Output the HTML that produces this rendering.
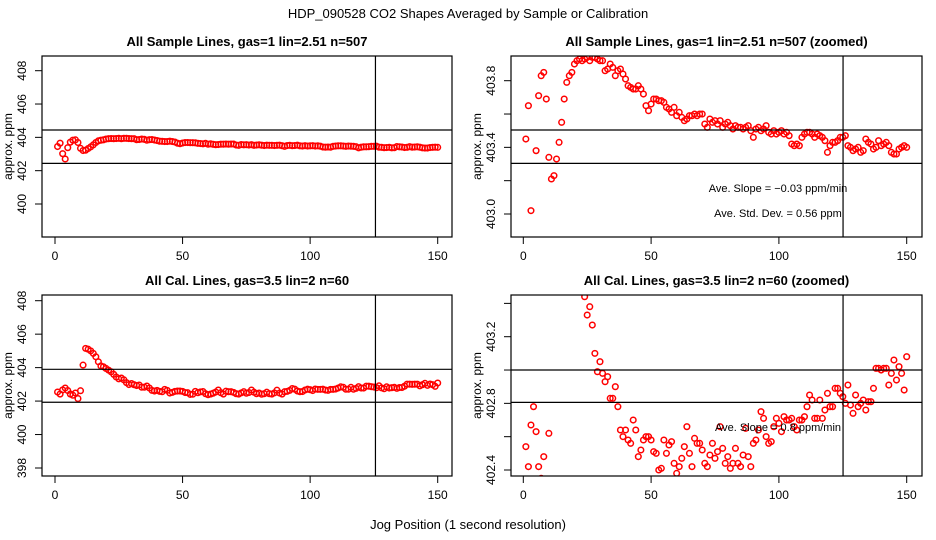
<!DOCTYPE html>
<html><head><meta charset="utf-8"><style>
body{margin:0;background:#fff}
svg{display:block;font-family:"Liberation Sans",sans-serif}
</style></head><body>
<svg id="s" width="936" height="540" xmlns="http://www.w3.org/2000/svg">
<rect width="936" height="540" fill="#fff"/>
<text x="468" y="18" text-anchor="middle" font-size="13">HDP_090528  CO2 Shapes Averaged by Sample or Calibration</text>
<text x="468" y="529" text-anchor="middle" font-size="13">Jog Position (1 second resolution)</text>
</svg>
<script>
const sampleValues=[403.45,403.65,403.02,402.7,403.38,403.71,403.83,403.85,403.69,403.34,403.21,403.23,403.33,403.43,403.55,403.69,403.79,403.83,403.85,403.90,
403.92,403.93,403.92,403.93,403.94,403.92,403.94,403.94,403.93,403.92,403.92,403.86,403.87,403.90,403.88,403.83,403.86,403.87,403.84,403.81,
403.77,403.76,403.75,403.75,403.77,403.75,403.72,403.65,403.62,403.66,403.69,403.69,403.68,403.68,403.67,403.64,403.63,403.61,403.64,403.59,
403.61,403.58,403.56,403.57,403.59,403.59,403.60,403.59,403.60,403.60,403.54,403.52,403.57,403.55,403.56,403.54,403.56,403.52,403.54,403.55,
403.53,403.51,403.53,403.52,403.52,403.51,403.52,403.53,403.50,403.46,403.51,403.52,403.50,403.51,403.53,403.49,403.48,403.50,403.48,403.49,
403.50,403.48,403.49,403.47,403.42,403.41,403.42,403.41,403.46,403.48,403.49,403.49,403.48,403.46,403.48,403.47,403.46,403.44,403.37,403.41,
403.43,403.43,403.44,403.46,403.46,403.47,403.41,403.40,403.38,403.39,403.40,403.37,403.38,403.45,403.43,403.42,403.39,403.40,403.44,403.41,
403.42,403.43,403.41,403.37,403.36,403.36,403.39,403.40,403.41,403.40];
const calValues=[402.54,402.42,402.67,402.78,402.63,402.42,402.35,402.48,402.15,402.62,404.15,405.15,405.1,405.0,404.85,404.65,404.35,404.1,404.05,403.95,
403.85,403.75,403.6,403.44,403.33,403.38,403.27,403.10,402.99,403.05,402.98,402.93,402.96,402.83,402.83,402.90,402.78,402.64,402.60,402.64,
402.58,402.56,402.70,402.64,402.48,402.52,402.58,402.60,402.60,402.58,402.51,402.50,402.40,402.41,402.58,402.50,402.55,402.57,402.44,402.38,
402.42,402.47,402.54,402.66,402.50,402.42,402.59,402.56,402.56,402.52,402.44,402.42,402.49,402.56,402.47,402.51,402.66,402.53,402.44,402.48,
402.41,402.44,402.53,402.44,402.42,402.49,402.65,402.48,402.42,402.56,402.58,402.64,402.75,402.71,402.60,402.56,402.57,402.66,402.71,402.68,
402.63,402.72,402.70,402.70,402.71,402.66,402.64,402.70,402.70,402.72,402.78,402.85,402.82,402.71,402.71,402.82,402.71,402.76,402.86,402.78,
402.78,402.89,402.89,402.86,402.84,402.80,402.91,402.79,402.74,402.85,402.78,402.80,402.82,402.76,402.81,402.81,402.89,403.01,403.01,403.00,
403.01,403.01,402.91,402.98,403.06,402.94,403.02,402.98,402.88,403.08];
const xTicks=[0,50,100,150];
const panels=[
 {id:'tl',title:'All Sample Lines, gas=1 lin=2.51 n=507',data:sampleValues,box:[42,56,452,237],x0:55,x150:437.7,yRef:[408,70.7,400,204],ticks:[400,402,404,406,408],labels:[400,402,404,406,408],h:[404.44,402.44],v:125.6,ylab:8,ytl:22,notes:[]},
 {id:'tr',title:'All Sample Lines, gas=1 lin=2.51 n=507 (zoomed)',data:sampleValues,box:[511,56,922,237],x0:523.3,x150:906.7,yRef:[403.8,80.7,403.0,214],ticks:[403.0,403.2,403.4,403.6,403.8],labels:[403.0,403.4,403.8],h:[403.504,403.304],v:125.1,ylab:477,ytl:491,notes:[['Ave. Slope =  \u22120.03  ppm/min',778,192],['Ave. Std. Dev. =  0.56  ppm',778,217]]},
 {id:'bl',title:'All Cal. Lines, gas=3.5 lin=2 n=60',data:calValues,box:[42,295,452,476],x0:55,x150:437.7,yRef:[408,300.7,398,468],ticks:[398,400,402,404,406,408],labels:[398,400,402,404,406,408],h:[403.9,401.93],v:125.6,ylab:8,ytl:22,notes:[]},
 {id:'br',title:'All Cal. Lines, gas=3.5 lin=2 n=60 (zoomed)',data:calValues,box:[511,295,922,476],x0:523.3,x150:906.7,yRef:[403.2,336.7,402.4,470],ticks:[402.4,402.6,402.8,403.0,403.2,403.4],labels:[402.4,402.8,403.2],h:[403.0,402.806],v:125.1,ylab:477,ytl:491,notes:[['Ave. Slope = 0.8  ppm/min',778,431]]}
];
const NS='http://www.w3.org/2000/svg',svg=document.getElementById('s');
function mk(t,a,p){const e=document.createElementNS(NS,t);for(const k in a)e.setAttribute(k,a[k]);(p||svg).appendChild(e);return e;}
panels.forEach((P,pi)=>{
 const g=mk('g',{});
 
 
 const [L,T,R,B]=P.box;
 const xs=v=>P.x0+(P.x150-P.x0)*v/150;
 const ys=v=>P.yRef[1]+(P.yRef[3]-P.yRef[1])*(v-P.yRef[0])/(P.yRef[2]-P.yRef[0]);
 const cp=mk('clipPath',{id:'c'+pi},g);mk('rect',{x:L,y:T,width:R-L,height:B-T},cp);
 const t=mk('text',{x:(L+R)/2,y:T-10,'text-anchor':'middle','font-size':13,'font-weight':'bold'},g);t.textContent=P.title;
 
 
 const pts=mk('g',{'clip-path':'url(#c'+pi+')'},g);
 
 
 P.data.forEach((v,i)=>{const c=mk('circle',{cx:xs(i+1),cy:ys(v),r:2.8,fill:'none',stroke:'#f00','stroke-width':1.5},pts);
  
  });
 P.h.forEach(h=>{const l=mk('line',{x1:L,x2:R,y1:ys(h),y2:ys(h),stroke:'#000','stroke-width':1.2},g);
  
  });
 const vl=mk('line',{x1:xs(P.v),x2:xs(P.v),y1:T,y2:B,stroke:'#000','stroke-width':1.2},g);
 
 
 const bx=mk('rect',{x:L,y:T,width:R-L,height:B-T,fill:'none',stroke:'#000','stroke-width':1.2},g);
 
 
 xTicks.forEach(v=>{mk('line',{x1:xs(v),x2:xs(v),y1:B,y2:B+7,stroke:'#000'},g);
  const tx=mk('text',{x:xs(v),y:B+23,'text-anchor':'middle','font-size':12},g);tx.textContent=v;
  
  });
 P.ticks.forEach(v=>mk('line',{x1:L-7,x2:L,y1:ys(v),y2:ys(v),stroke:'#000'},g));
 P.labels.forEach(v=>{const y=ys(v);const tx=mk('text',{x:P.ytl,y:y,'text-anchor':'middle','font-size':12,transform:`rotate(-90 ${P.ytl} ${y})`,dy:4},g);
  tx.textContent=(P.id==='tl'||P.id==='bl')?v:v.toFixed(1);
  
  });
 const yc=(T+B)/2;
 const yl=mk('text',{x:P.ylab,y:yc,'text-anchor':'middle','font-size':12,transform:`rotate(-90 ${P.ylab} ${yc})`,dy:4},g);yl.textContent='approx. ppm';
 
 
 P.notes.forEach(n=>{const tx=mk('text',{x:n[1],y:n[2],'text-anchor':'middle','font-size':11},g);tx.textContent=n[0];
  
  });
});
</script>
</body></html>
